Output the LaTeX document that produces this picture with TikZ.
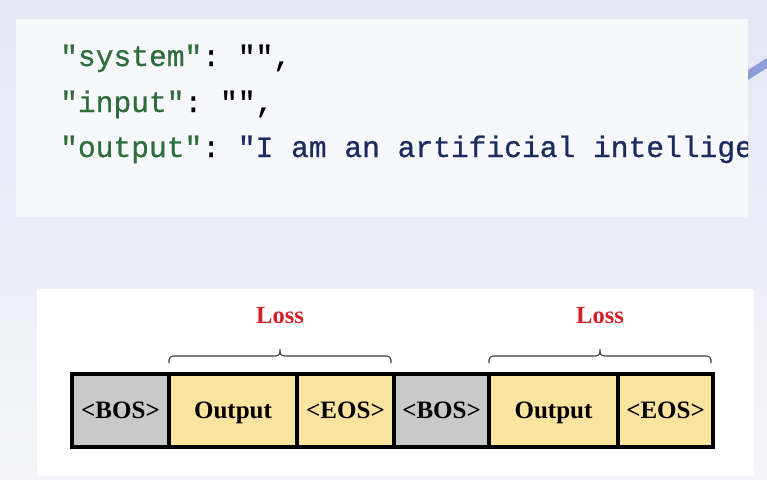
\documentclass[tikz,border=0pt]{standalone}
\usepackage{fontspec}
\setmainfont{Liberation Serif}
\setmonofont{Liberation Mono}[FakeBold=0.8]
\usetikzlibrary{calc}

\definecolor{bgtop}{HTML}{E4E6F4}
\definecolor{bgbot}{HTML}{F4F4FA}
\definecolor{codebg}{HTML}{F7F8FB}
\definecolor{keygreen}{HTML}{2E6E3A}
\definecolor{strnavy}{HTML}{1C2C5E}
\definecolor{bosgray}{HTML}{C9C9C9}
\definecolor{outyellow}{HTML}{FBE3A0}
\definecolor{lossred}{HTML}{D2202B}
\definecolor{swoosh}{HTML}{8E9CD8}

\begin{document}
\begin{tikzpicture}[
    x=1pt, y=-1pt,
    code/.style={anchor=base west, inner sep=0pt, font=\fontsize{29.6}{30}\selectfont\ttfamily},
    cell/.style={draw, line width=3.2pt, minimum height=73pt, inner sep=0pt, outer sep=0pt, text height=16.5pt, text depth=0pt, font=\fontsize{25}{25}\selectfont\bfseries},
    bos/.style={cell, fill=bosgray},
    tok/.style={cell, fill=outyellow},
    loss/.style={font=\fontsize{24.5}{25}\selectfont\bfseries, text=lossred, text height=16pt, text depth=0pt, inner sep=0pt},
    lossbrace/.style={line width=1.1pt, draw=black!75, rounded corners=4pt}
  ]

  % Background and the two panels
  \shade[top color=bgtop, bottom color=bgbot] (0,0) rectangle (767,479);
  \useasboundingbox (0,0) rectangle (767,479);
  \fill[swoosh] (748,70) -- (767,58) -- (767,68) -- (748,80) -- cycle;
  \fill[codebg] (16,19) rectangle (748,217);
  \fill[white] (37,289) rectangle (754,476);

  % Sample record, cut off at the panel edge
  \begin{scope}
    \clip (16,19) rectangle (748,217);
    \node[code] (sysline) at (60,66) {\textcolor{keygreen}{"system"}: "",};
    \node[code] (inline) at (60,112) {\textcolor{keygreen}{"input"}: "",};
    \node[code] (outline) at (60,157) {\textcolor{keygreen}{"output"}: \textcolor{strnavy}{"I am an artificial intellige}};
  \end{scope}

  % Token row
  \node[bos, minimum width=97pt] (bos1) at (120.5,410.5) {<BOS>};
  \node[tok, minimum width=128pt] (out1) at (233,410.5) {Output};
  \node[tok, minimum width=97pt] (eos1) at (345.5,410.5) {<EOS>};
  \node[bos, minimum width=95pt] (bos2) at (441.5,410.5) {<BOS>};
  \node[tok, minimum width=129pt] (out2) at (553.5,410.5) {Output};
  \node[tok, minimum width=95pt] (eos2) at (665.5,410.5) {<EOS>};

  % Loss braces over output and end token
  \coordinate (mid1) at ($(out1.north west)!0.5!([xshift=-3pt]eos1.north east)$);
  \coordinate (mid2) at ($(out2.north west)!0.5!([xshift=-2pt]eos2.north east)$);
  \draw[lossbrace] ([yshift=11pt]out1.north west) |- ([yshift=18pt]mid1) -- ([yshift=25pt]mid1)
    ([yshift=25pt]mid1) -- ([yshift=18pt]mid1) -| ([yshift=11pt, xshift=-3pt]eos1.north east);
  \draw[lossbrace] ([yshift=11pt]out2.north west) |- ([yshift=18pt]mid2) -- ([yshift=25pt]mid2)
    ([yshift=25pt]mid2) -- ([yshift=18pt]mid2) -| ([yshift=11pt, xshift=-2pt]eos2.north east);
  \node[loss] (loss1) at (280,315) {Loss};
  \node[loss] (loss2) at (600,315) {Loss};

\end{tikzpicture}
\end{document}
